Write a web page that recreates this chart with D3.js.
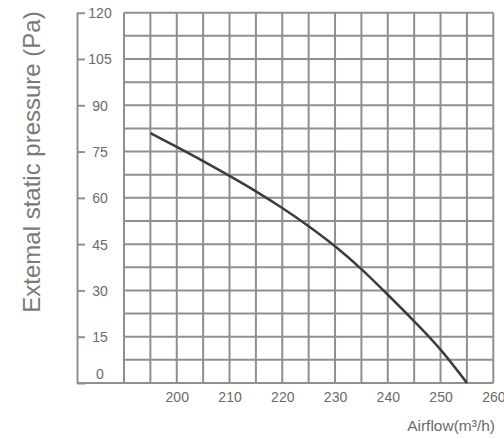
<!DOCTYPE html>
<html>
<head>
<meta charset="utf-8">
<script src="https://cdn.jsdelivr.net/npm/d3@7"></script>
<style>
  body { margin: 0; background: #fff; }
  text { font-family: "Liberation Sans", Arial, sans-serif; }
</style>
</head>
<body>
<svg id="display"></svg>
<script>
// data
const airflow = [195, 200, 205, 210, 215, 220, 225, 230, 235, 240, 245, 250, 255]
const pressure = [81, 76.5, 71.9, 67.1, 62.1, 56.7, 50.8, 44.3, 36.9, 28.6, 20, 10.8, 0]
const xTicks = [200, 210, 220, 230, 240, 250, 260]
const yTicks = [0, 15, 30, 45, 60, 75, 90, 105, 120]
const xGrid = d3.range(190, 261, 5)
const yGrid = d3.range(0, 121, 7.5)

let width = 504
let height = 439

let svg = d3.select('#display')
  .attr('width', width)
  .attr('height', height)

const xScale = d3.scaleLinear()
  .domain([190, 260])
  .range([124, 493.3])

const yScale = d3.scaleLinear()
  .domain([0, 120])
  .range([383, 12.7])

const gridColor = '#8f8f8f'

// grid
svg.append('g')
  .selectAll('line.v')
  .data(xGrid)
  .enter()
  .append('line')
  .attr('x1', d => xScale(d))
  .attr('x2', d => xScale(d))
  .attr('y1', yScale(120))
  .attr('y2', yScale(0))
  .attr('stroke', gridColor)
  .attr('stroke-width', 2)

svg.append('g')
  .selectAll('line.h')
  .data(yGrid)
  .enter()
  .append('line')
  .attr('x1', xScale(190))
  .attr('x2', xScale(260))
  .attr('y1', d => yScale(d))
  .attr('y2', d => yScale(d))
  .attr('stroke', gridColor)
  .attr('stroke-width', 2)

// y axis, set apart from the grid, ticks pointing right
let axisX = 77
let yAxis = svg.append('g')
  .attr('transform', 'translate(' + axisX + ', 0)')
  .call(d3.axisRight(yScale).tickValues(yTicks).tickSize(8).tickSizeOuter(0))

yAxis.select('.domain').attr('stroke', gridColor).attr('stroke-width', 2)
yAxis.selectAll('.tick line').attr('stroke', gridColor).attr('stroke-width', 2)
yAxis.selectAll('.tick text')
  .attr('x', 23)
  .attr('dy', d => d === 0 ? '-0.32em' : '0.35em')
  .attr('text-anchor', 'middle')
  .attr('fill', '#6a6a6a')
  .style('font-size', '14px')

// bottom line joining the axis to the grid
svg.append('line')
  .attr('x1', axisX)
  .attr('x2', xScale(260))
  .attr('y1', yScale(0))
  .attr('y2', yScale(0))
  .attr('stroke', gridColor)
  .attr('stroke-width', 2)

// x tick labels
let xAxis = svg.append('g')
  .attr('transform', 'translate(0, ' + yScale(0) + ')')
  .call(d3.axisBottom(xScale).tickValues(xTicks).tickSize(0).tickPadding(9))

xAxis.select('.domain').remove()
xAxis.selectAll('.tick text')
  .attr('fill', '#6a6a6a')
  .style('font-size', '14px')

// curve
const line = d3.line()
  .x((d, i) => xScale(airflow[i]))
  .y(d => yScale(d))
  .curve(d3.curveMonotoneX)

svg.append('path')
  .datum(pressure)
  .attr('d', line)
  .attr('fill', 'none')
  .attr('stroke', '#3c3c3c')
  .attr('stroke-width', 2.5)

// axis titles
svg.append('text')
  .attr('transform', 'translate(40, 162) rotate(-90)')
  .attr('text-anchor', 'middle')
  .attr('fill', '#7a7a7a')
  .style('font-size', '24px')
  .text('Extemal static pressure (Pa)')

svg.append('text')
  .attr('x', 495)
  .attr('y', 430.5)
  .attr('text-anchor', 'end')
  .attr('fill', '#6a6a6a')
  .style('font-size', '15.5px')
  .text('Airflow(m³/h)')
</script>
</body>
</html>
